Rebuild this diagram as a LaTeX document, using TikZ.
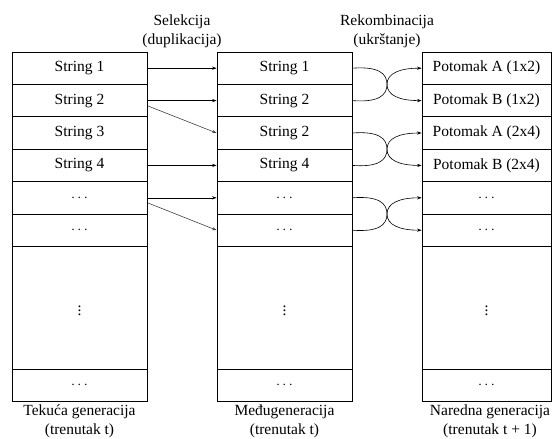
\documentclass[tikz,border=0pt]{standalone}
\usepackage{fontspec}
\setmainfont{Liberation Serif}
\newfontfamily\tnr{Liberation Serif}
\usetikzlibrary{arrows.meta}
\begin{document}
\begin{tikzpicture}[x=1pt,y=-1pt,
  cell/.style={draw=black,line width=0.8pt,minimum height=32.4pt,inner sep=0pt,font=\tnr\fontsize{15.5}{18}\selectfont},
  c12/.style={cell,minimum width=135pt},
  c3/.style={cell,minimum width=129pt},
  big/.style={minimum height=122.6pt},
  lbl/.style={align=center,font=\tnr\fontsize{15.5}{19}\selectfont,inner sep=0pt},
  arr/.style={line width=0.6pt,-{Stealth[length=4.5pt,width=3.2pt]}},
  garr/.style={arr,draw=black!75}]
\useasboundingbox (0,0) rectangle (552,439);
% column 1
\node[c12] (a1) at (79.5,68.2) {String 1};
\node[c12] (a2) at (79.5,100.6) {String 2};
\node[c12] (a3) at (79.5,133) {String 3};
\node[c12] (a4) at (79.5,165.4) {String 4};
\node[c12] (a5) at (79.5,197.8) {$\cdots$};
\node[c12] (a6) at (79.5,230.2) {$\cdots$};
\node[c12,big] (a7) at (79.5,307.7) {$\vdots$};
\node[c12,minimum height=32pt] (a8) at (79.5,385) {$\cdots$};
% column 2
\node[c12] (b1) at (284.5,68.2) {String 1};
\node[c12] (b2) at (284.5,100.6) {String 2};
\node[c12] (b3) at (284.5,133) {String 2};
\node[c12] (b4) at (284.5,165.4) {String 4};
\node[c12] (b5) at (284.5,197.8) {$\cdots$};
\node[c12] (b6) at (284.5,230.2) {$\cdots$};
\node[c12,big] (b7) at (284.5,307.7) {$\vdots$};
\node[c12,minimum height=32pt] (b8) at (284.5,385) {$\cdots$};
% column 3
\node[c3] (p1) at (486.5,68.2) {Potomak A (1x2)};
\node[c3] (p2) at (486.5,100.6) {Potomak B (1x2)};
\node[c3] (p3) at (486.5,133) {Potomak A (2x4)};
\node[c3] (p4) at (486.5,165.4) {Potomak B (2x4)};
\node[c3] (p5) at (486.5,197.8) {$\cdots$};
\node[c3] (p6) at (486.5,230.2) {$\cdots$};
\node[c3,big] (p7) at (486.5,307.7) {$\vdots$};
\node[c3,minimum height=32pt] (p8) at (486.5,385) {$\cdots$};
% labels
\node[lbl] (sel) at (182,31) {Selekcija\\(duplikacija)};
\node[lbl] (rek) at (387,31) {Rekombinacija\\(ukrštanje)};
\node[lbl] (l1) at (79.5,421.5) {Tekuća generacija\\(trenutak t)};
\node[lbl] (l2) at (284.5,421.5) {Međugeneracija\\(trenutak t)};
\node[lbl] (l3) at (490,421.5) {Naredna generacija\\(trenutak t + 1)};
% selection arrows
\coordinate (d1) at (148,106);
\coordinate (d2) at (148,203);
\draw[arr] (a1.east) -- (b1.west);
\draw[arr] (a2.east) -- (b2.west);
\draw[garr] (d1) -- (b3.west);
\draw[arr] (a4.east) -- (b4.west);
\draw[arr] (a5.east) -- (b5.west);
\draw[garr] (d2) -- (b6.west);
% recombination
\coordinate (x1) at (387,84.4);
\coordinate (x2) at (387,149.2);
\coordinate (x3) at (387,214);
\foreach \u/\l/\x in {1/2/x1,3/4/x2,5/6/x3}{
  \draw[arr] (b\u.east) .. controls +(26,-2) and +(0,-11) .. (\x) .. controls +(0,11) and +(-22,0) .. (p\l.west);
  \draw[arr] (b\l.east) .. controls +(26,2) and +(0,11) .. (\x) .. controls +(0,-11) and +(-22,0) .. (p\u.west);
}
\end{tikzpicture}
\end{document}
